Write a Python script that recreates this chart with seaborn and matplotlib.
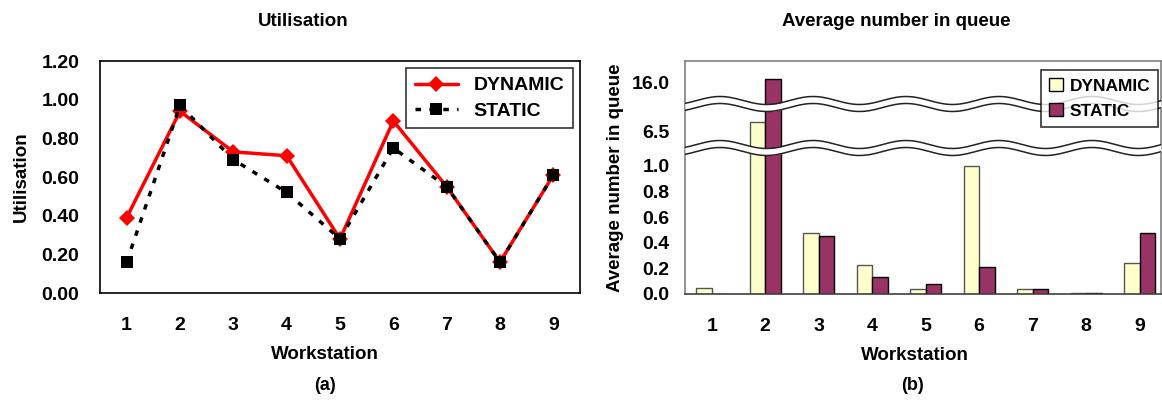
import numpy as np
import matplotlib
matplotlib.use("Agg")
import matplotlib.pyplot as plt
import pandas as pd
import seaborn as sns

# workstations 1..9
workstations = [1, 2, 3, 4, 5, 6, 7, 8, 9]
dynamic_util = [0.39, 0.94, 0.73, 0.71, 0.28, 0.89, 0.55, 0.16, 0.61]
static_util = [0.16, 0.97, 0.69, 0.52, 0.28, 0.75, 0.55, 0.16, 0.61]
dynamic_queue = [0.05, 8.5, 0.48, 0.23, 0.04, 1.01, 0.04, 0.005, 0.24]
static_queue = [0.0, 16.8, 0.45, 0.13, 0.08, 0.21, 0.04, 0.005, 0.48]
queue_ticks = [0.0, 0.2, 0.4, 0.6, 0.8, 1.0, 6.5, 16.0]

sns.set_style("white")
plt.rcParams["font.family"] = ["Liberation Sans", "DejaVu Sans"]
plt.rcParams["font.weight"] = "bold"
plt.rcParams["axes.labelweight"] = "bold"
for k in ["text.color", "axes.labelcolor", "xtick.color", "ytick.color"]:
    plt.rcParams[k] = "black"

W, H = 1162, 403
fig = plt.figure(figsize=(W / 100, H / 100), dpi=100)
ax1 = fig.add_axes([100 / W, 1 - 293 / H, 480 / W, 232 / H])
ax2 = fig.add_axes([685 / W, 1 - 294 / H, 476 / W, 233.3 / H])

# ---------- (a) utilisation ----------
sns.lineplot(x=workstations, y=dynamic_util, ax=ax1, color="red", lw=2.5,
             marker="D", markersize=8, mew=0, label="DYNAMIC")
sns.lineplot(x=workstations, y=static_util, ax=ax1, color="black", lw=2.5,
             marker="s", markersize=8, mew=0, linestyle=(0, (1.6, 2.4)), label="STATIC")
ax1.set_xlim(0.5, 9.5)
ax1.set_ylim(0, 1.2)
ax1.set_xticks(workstations)
ax1.set_yticks(np.arange(0, 1.21, 0.2))
ax1.yaxis.set_major_formatter(matplotlib.ticker.FormatStrFormatter("%.2f"))
ax1.tick_params(axis="both", length=0, labelsize=14)
ax1.tick_params(axis="y", pad=15)
ax1.tick_params(axis="x", pad=17)
for s in ax1.spines.values():
    s.set_color("black")
    s.set_linewidth(1.2)
ax1.set_ylabel("Utilisation", fontsize=13.5)
ax1.set_xlabel("Workstation", fontsize=13.5)
ax1.yaxis.set_label_coords(-0.147, 0.5)
ax1.xaxis.set_label_coords(0.469, -0.23)
leg = ax1.legend(loc="upper right", bbox_to_anchor=(0.985, 0.97), fontsize=14,
                 frameon=True, fancybox=False, edgecolor="black", handlelength=2.2,
                 borderaxespad=0, labelspacing=0.4, borderpad=0.45)
leg.get_frame().set_linewidth(1.2)

# ---------- (b) average number in queue ----------
knots_v = [-10, 0, 1.0, 6.5, 16.0, 40]
knots_p = [-1280, 0, 128, 162, 211, 211 + 24 * 49 / 9.5]


def fwd(v):
    return np.interp(v, knots_v, knots_p)


def inv(p):
    return np.interp(p, knots_p, knots_v)


df = pd.DataFrame({
    "Workstation": [str(w) for w in workstations] * 2,
    "value": dynamic_queue + static_queue,
    "policy": ["DYNAMIC"] * 9 + ["STATIC"] * 9,
})
ax2.set_yscale("function", functions=(fwd, inv))
sns.barplot(data=df, x="Workstation", y="value", hue="policy", ax=ax2,
            palette={"DYNAMIC": "#FFFFCC", "STATIC": "#993366"},
            width=0.58, saturation=1, linewidth=1)
for cont, ec in zip(ax2.containers, ["#555555", "black"]):
    for p in cont:
        p.set_edgecolor(ec)
ax2.set_ylim(0, 20.3)
ax2.set_xlim(-0.5, 8.4)
ax2.set_yticks(queue_ticks)
ax2.set_yticklabels([f"{t:.1f}" for t in queue_ticks])
ax2.yaxis.set_minor_locator(matplotlib.ticker.NullLocator())
ax2.tick_params(axis="both", length=0, labelsize=14)
ax2.tick_params(axis="y", pad=11)
ax2.tick_params(axis="x", pad=17)
for name, s in ax2.spines.items():
    s.set_color("#808080")
    s.set_linewidth(1.2)
ax2.spines["bottom"].set_color("#404040")
ax2.set_ylabel("Average number in queue", fontsize=13.5)
ax2.set_xlabel("Workstation", fontsize=13.5)
ax2.yaxis.set_label_coords(-0.128, 0.5)
ax2.xaxis.set_label_coords(0.483, -0.227)
leg2 = ax2.legend(loc="upper right", bbox_to_anchor=(0.994, 0.96), fontsize=12.5,
                  frameon=True, fancybox=False, edgecolor="black", handlelength=0.8,
                  handleheight=0.8, handletextpad=0.4, borderaxespad=0,
                  labelspacing=0.55, borderpad=0.45, title=None)
leg2.get_frame().set_linewidth(1.2)
for h in leg2.legend_handles:
    h.set_edgecolor("black")
    h.set_linewidth(1)

# wavy axis breaks
xs = np.linspace(0, 1, 400)
period = 93 / 476
x0 = 35 / 476
amp = 4 / 233.3
half = 3.5 / 233.3
for yc in [190 / 233.3, 146 / 233.3]:
    wave = yc + amp * np.cos(2 * np.pi * (xs - x0) / period)
    ax2.fill_between(xs, wave - half, wave + half, color="white",
                     transform=ax2.transAxes, zorder=3, lw=0)
    ax2.plot(xs, wave - half, color="#222222", lw=1.1, transform=ax2.transAxes, zorder=4)
    ax2.plot(xs, wave + half, color="#222222", lw=1.1, transform=ax2.transAxes, zorder=4)

# titles and panel letters
fig.text(303 / W, 1 - 22 / H, "Utilisation", ha="center", va="center", fontsize=13.5)
fig.text(896 / W, 1 - 22 / H, "Average number in queue", ha="center", va="center", fontsize=13.5)
fig.text(325 / W, 1 - 385 / H, "(a)", ha="center", va="center", fontsize=13)
fig.text(913 / W, 1 - 385 / H, "(b)", ha="center", va="center", fontsize=13)

fig.savefig("out.png", dpi=100)
